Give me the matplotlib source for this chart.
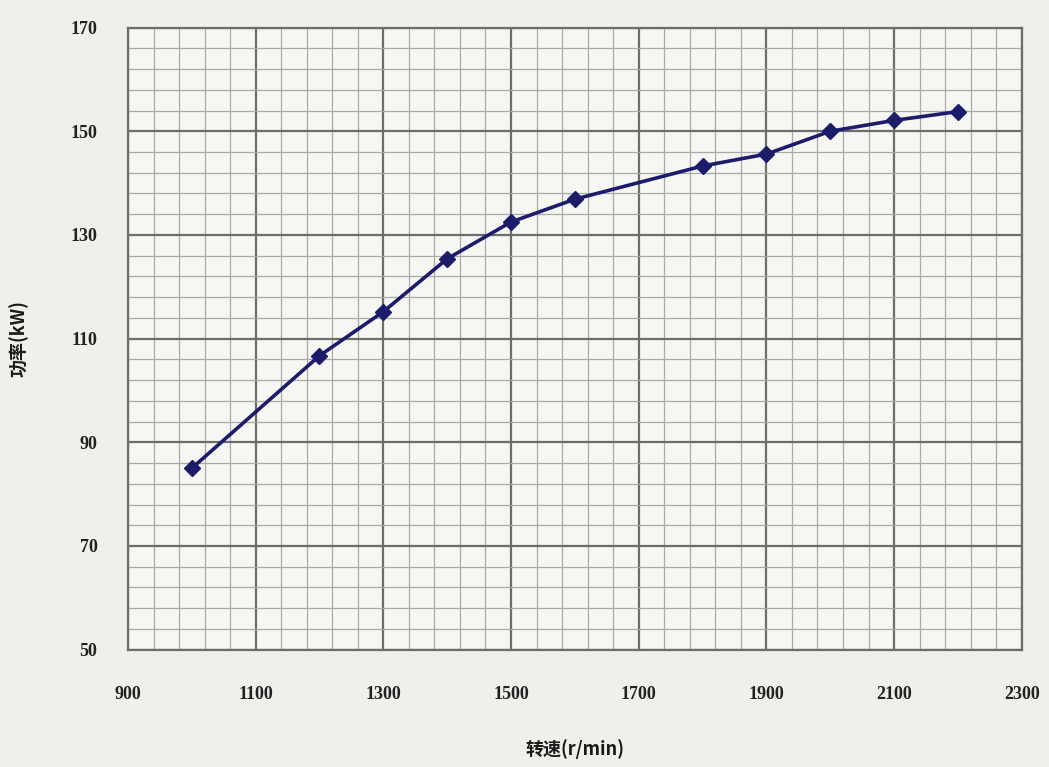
import numpy as np
import matplotlib.pyplot as plt
from matplotlib.ticker import FixedLocator

plt.rcParams['font.family'] = ['Noto Sans CJK SC', 'DejaVu Sans']

# Data
speed = [1000, 1200, 1300, 1400, 1500, 1600, 1800, 1900, 2000, 2100, 2200]
power = [85.0, 106.7, 115.2, 125.4, 132.5, 136.9, 143.3, 145.6, 150.0, 152.1, 153.8]

x_ticks = [900, 1100, 1300, 1500, 1700, 1900, 2100, 2300]
y_ticks = [50, 70, 90, 110, 130, 150, 170]

fig = plt.figure(figsize=(10.49, 7.67), dpi=100, facecolor='#eef0ea')
ax = fig.add_axes([0.122, 0.153, 0.852, 0.811])
ax.set_facecolor('#f6f7f2')

ax.plot(speed, power, color='#1c1c6b', lw=2.6, marker='D', ms=8,
        mfc='#1c1c6b', mec='#1c1c6b', zorder=3)

ax.set_xlim(900, 2300)
ax.set_ylim(50, 170)
ax.xaxis.set_major_locator(FixedLocator(x_ticks))
ax.xaxis.set_minor_locator(FixedLocator(np.arange(900, 2301, 40)))
ax.yaxis.set_major_locator(FixedLocator(y_ticks))
ax.yaxis.set_minor_locator(FixedLocator(np.arange(50, 171, 4)))

ax.grid(which='major', color='#6d6d6a', lw=1.6)
ax.grid(which='minor', color='#a9aaa5', lw=0.9)
ax.set_axisbelow(True)

for s in ax.spines.values():
    s.set_color('#6d6d6a')
    s.set_linewidth(1.6)

ax.tick_params(which='both', length=0)
ax.tick_params(axis='y', pad=22)
ax.tick_params(axis='x', pad=26)
for lab in ax.get_xticklabels() + ax.get_yticklabels():
    lab.set_fontweight('bold')
    lab.set_fontsize(13)
    lab.set_color('#222222')
    lab.set_family('Liberation Serif')

ax.set_xlabel('转速(r/min)', fontsize=13, fontweight='bold', color='#1a1a1a', labelpad=26)
ax.set_ylabel('功率(kW)', fontsize=13, fontweight='bold', color='#1a1a1a', labelpad=30)

fig.savefig('out.png', dpi=100, facecolor=fig.get_facecolor())
